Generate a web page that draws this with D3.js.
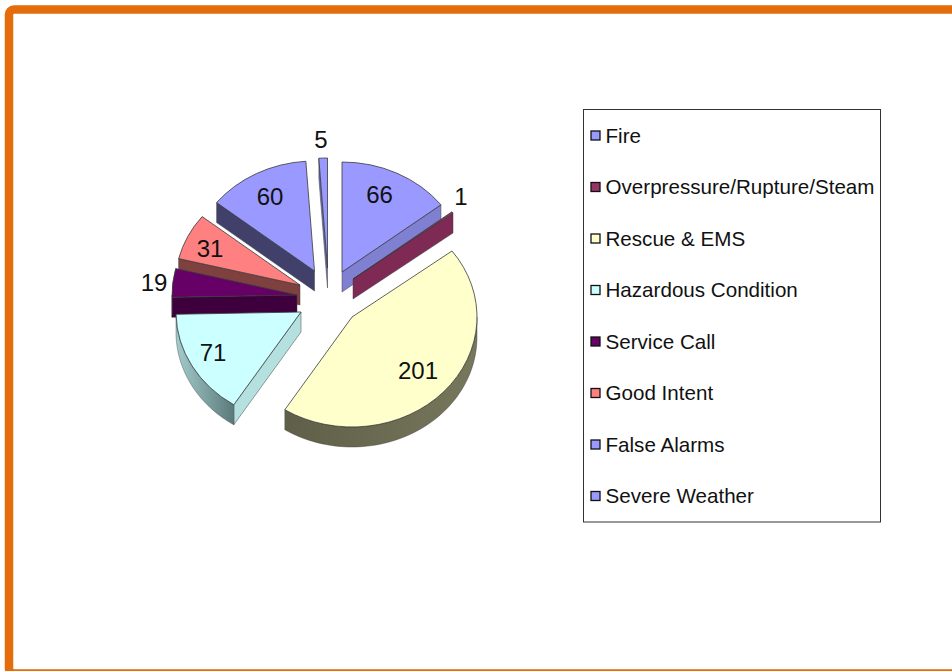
<!DOCTYPE html>
<html><head><meta charset="utf-8">
<script src="https://cdn.jsdelivr.net/npm/d3@7/dist/d3.min.js"></script>
<style>html,body{margin:0;padding:0;background:#fff;overflow:hidden}svg{display:block}text{font-family:"Liberation Sans",Arial,sans-serif;fill:#111}</style>
</head><body><svg id="c" width="952" height="671"></svg>
<script>
const categories=["Fire","Overpressure/Rupture/Steam","Rescue & EMS","Hazardous Condition","Service Call","Good Intent","False Alarms","Severe Weather"];
const values=[66,1,201,71,19,31,60,5];
const topColors=["#9999ff","#993366","#ffffcc","#ccffff","#660066","#ff8080","#9999ff","#9999ff"];
const cutColors=["#8080d2","#7f2a55","#66664f","#b4e0e0","#3d003d","#7f4040","#40406b","#6f6fc0"];
const rimColors=[["#8080d2","#8080d2"],["#7f2a55","#7f2a55"],["#77775c","#5f5f49"],["#a3cccc","#5b7a7a"],["#3d003d","#3d003d"],["#7f4040","#7f4040"],["#40406b","#40406b"],["#6f6fc0","#6f6fc0"]];
// layout: where each exploded wedge's tip lands, and its label relative to that tip
const tips=[[342,272],[353,279],[352,317],[301,312],[297,295],[300,285],[314.5,271],[327.5,268]];
const labelShift=[[37.5,-78],[108,-83],[66,53],[-88,40],[-143,-13],[-90,-37],[-44.5,-75],[-6.5,-129]];
const drawOrder=[0,1,6,7,5,4,3,2];
const rx=125,ry=110,depth=20;

const svg=d3.select("#c");
svg.append("rect").attr("x",9).attr("y",9.5).attr("width",1000).attr("height",664).attr("rx",5)
  .attr("fill","#fff").attr("stroke","#e46c0a").attr("stroke-width",8.5);
const defs=svg.append("defs");
const arcs=d3.pie().sort(null).value(d=>d)(values);
const pt=(t,dy=0)=>[rx*Math.sin(t),-ry*Math.cos(t)+dy];
const line=d3.line();
const edge="#3a3a3a";

drawOrder.forEach(i=>{
  const a=arcs[i],g=svg.append("g").attr("transform",`translate(${tips[i]})`);
  const s=a.startAngle,e=a.endAngle;
  const face=(t,col)=>g.append("path").attr("d",line([[0,0],pt(t),pt(t,depth),[0,depth]])+"Z")
     .attr("fill",col).attr("stroke",edge).attr("stroke-opacity",.6).attr("stroke-width",.8);
  if(Math.sin(s)<0) face(s,cutColors[i]);
  if(Math.sin(e)>0) face(e,cutColors[i]);
  const t0=Math.max(s,Math.PI/2),t1=Math.min(e,Math.PI*1.5);
  if(t1>t0){
    const ts=d3.range(0,61).map(k=>t0+(t1-t0)*k/60);
    const gid="rim"+i;
    const lg=defs.append("linearGradient").attr("id",gid).attr("gradientUnits","userSpaceOnUse")
      .attr("x1",pt(t0)[0]).attr("y1",0).attr("x2",pt(t1)[0]).attr("y2",0);
    const stops=i===3?[rimColors[i][1],rimColors[i][0]]:rimColors[i];
    lg.append("stop").attr("offset",0).attr("stop-color",stops[0]);
    lg.append("stop").attr("offset",1).attr("stop-color",stops[1]);
    g.append("path").attr("d",line(ts.map(t=>pt(t)).concat(ts.slice().reverse().map(t=>pt(t,depth))))+"Z")
      .attr("fill",`url(#${gid})`).attr("stroke",edge).attr("stroke-opacity",.5).attr("stroke-width",.8);
  }
  g.append("path").attr("transform",`scale(1,${ry/rx})`)
    .attr("d",d3.arc().innerRadius(0).outerRadius(rx)(a))
    .attr("fill",topColors[i]).attr("stroke",edge).attr("stroke-opacity",.8).attr("stroke-width",1)
    .attr("vector-effect","non-scaling-stroke");
});

values.forEach((v,i)=>{
  svg.append("text").attr("x",tips[i][0]+labelShift[i][0]).attr("y",tips[i][1]+labelShift[i][1])
    .attr("text-anchor","middle").attr("dominant-baseline","central").attr("font-size",24).text(v);
});

svg.append("rect").attr("x",583.5).attr("y",109.5).attr("width",297).attr("height",412.5)
  .attr("fill","#fff").attr("stroke","#333").attr("stroke-width",1);
const ly=d3.scalePoint().domain(categories).range([135.5,496]);
const lg=svg.selectAll("g.l").data(categories).join("g").attr("class","l").attr("transform",d=>`translate(0,${ly(d)})`);
lg.append("rect").attr("x",591).attr("y",-4.5).attr("width",9).attr("height",9)
  .attr("fill",(d,i)=>topColors[i]).attr("stroke","#111").attr("stroke-width",1.3);
lg.append("text").attr("x",605.5).attr("y",-0.5).attr("dominant-baseline","central").attr("font-size",20.6).text(d=>d);
</script></body></html>
